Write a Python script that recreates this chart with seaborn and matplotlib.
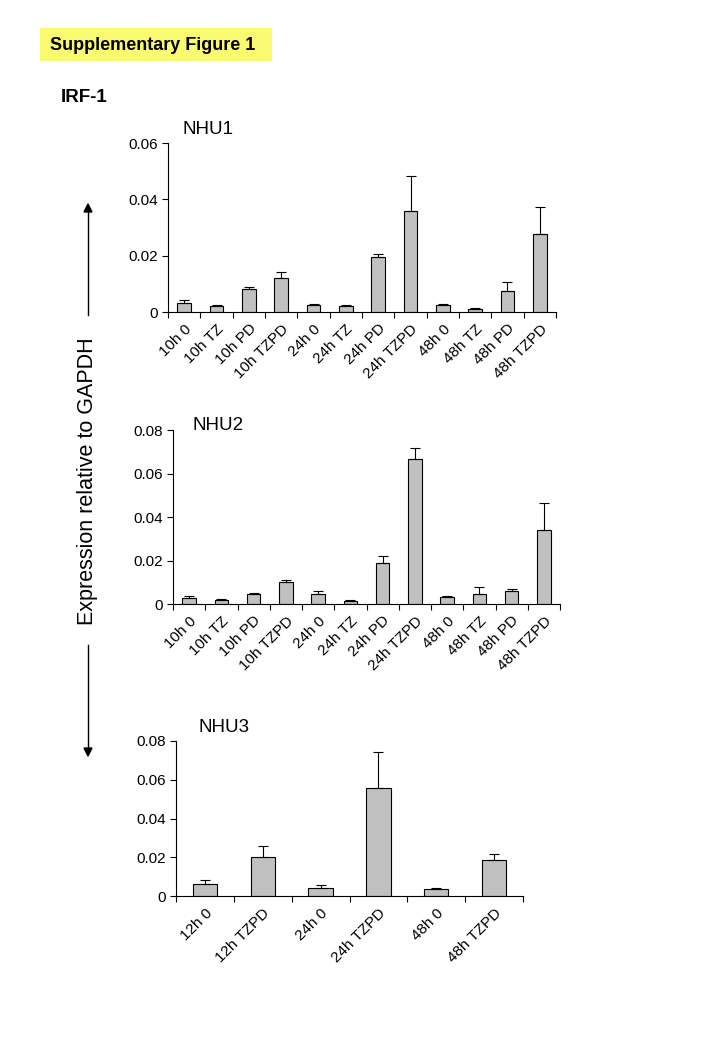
import numpy as np
import pandas as pd
import seaborn as sns
import matplotlib.pyplot as plt
from matplotlib.patches import Rectangle

# NHU1 / NHU2 share the same 12 conditions
conds12 = ["10h 0", "10h TZ", "10h PD", "10h TZPD",
           "24h 0", "24h TZ", "24h PD", "24h TZPD",
           "48h 0", "48h TZ", "48h PD", "48h TZPD"]
nhu1_mean = [0.0032, 0.0020, 0.0083, 0.0121, 0.0025, 0.0020,
             0.0196, 0.0357, 0.0025, 0.0012, 0.0076, 0.0278]
nhu1_top = [0.0043, 0.0024, 0.0088, 0.0141, 0.0028, 0.0024,
            0.0207, 0.0484, 0.0028, 0.0013, 0.0105, 0.0372]

nhu2_mean = [0.0029, 0.0018, 0.0044, 0.0103, 0.0044, 0.0014,
             0.0190, 0.0665, 0.0034, 0.0044, 0.0058, 0.0340]
nhu2_top = [0.0038, 0.0021, 0.0052, 0.0112, 0.0058, 0.0018,
            0.0219, 0.0719, 0.0035, 0.0078, 0.0067, 0.0466]

conds6 = ["12h 0", "12h TZPD", "24h 0", "24h TZPD", "48h 0", "48h TZPD"]
nhu3_mean = [0.0062, 0.0201, 0.0041, 0.0560, 0.0036, 0.0185]
nhu3_top = [0.0082, 0.0258, 0.0058, 0.0745, 0.0041, 0.0216]

plt.rcParams['font.family'] = ['Liberation Sans', 'DejaVu Sans']

W, H = 720, 1040
fig = plt.figure(figsize=(7.2, 10.4), dpi=100)


def px_axes(x0, x1, y0, y1):
    # pixel box -> figure fraction
    return fig.add_axes([x0 / W, 1 - y1 / H, (x1 - x0) / W, (y1 - y0) / H])


def panel(ax, labels, mean, top, ymax, yticks, title, title_x):
    df = pd.DataFrame({"cond": labels, "val": mean})
    sns.barplot(data=df, x="cond", y="val", color="#c0c0c0", saturation=1,
                edgecolor="black", linewidth=0.8, width=0.42, errorbar=None, ax=ax)
    x = np.arange(len(labels))
    up = np.array(top) - np.array(mean)
    ax.errorbar(x, mean, yerr=[np.zeros(len(x)), up], fmt="none",
                ecolor="black", elinewidth=0.8, capsize=3.5, capthick=0.8)
    ax.set_xlim(-0.5, len(labels) - 0.5)
    ax.set_ylim(0, ymax)
    ax.set_yticks(yticks)
    ax.set_yticklabels(["0" if v == 0 else f"{v:.2f}" for v in yticks], fontsize=11)
    ax.set_xticks(x)
    ax.set_xticklabels(labels, rotation=45, ha="right", rotation_mode="anchor", fontsize=11)
    ax.set_xticks(np.arange(-0.5, len(labels)), minor=True)
    ax.tick_params(axis="x", which="major", length=0, pad=7)
    ax.tick_params(axis="x", which="minor", length=4, width=0.8, direction="out")
    ax.tick_params(axis="y", length=4, width=0.8, direction="out", pad=3)
    ax.set_xlabel("")
    ax.set_ylabel("")
    sns.despine(ax=ax)
    for s in ["left", "bottom"]:
        ax.spines[s].set_linewidth(0.8)
    fig.text(title_x / W, 1 - title[1] / H, title[0], fontsize=13.5, va="center")


ax1 = px_axes(168, 556, 143, 312)
panel(ax1, conds12, nhu1_mean, nhu1_top, 0.06, [0, 0.02, 0.04, 0.06], ("NHU1", 130), 183)

ax2 = px_axes(173, 560, 430, 604)
panel(ax2, conds12, nhu2_mean, nhu2_top, 0.08, [0, 0.02, 0.04, 0.06, 0.08], ("NHU2", 425), 193)

ax3 = px_axes(176, 523, 741, 896)
panel(ax3, conds6, nhu3_mean, nhu3_top, 0.08, [0, 0.02, 0.04, 0.06, 0.08], ("NHU3", 727), 199)

# header
fig.patches.append(Rectangle((40 / W, 1 - 61 / H), 232 / W, 33 / H,
                             transform=fig.transFigure, facecolor="#fafa70",
                             edgecolor="none", zorder=0))
fig.text(50 / W, 1 - 45 / H, "Supplementary Figure 1", fontsize=13,
         fontweight="bold", va="center")
fig.text(61 / W, 1 - 97 / H, "IRF-1", fontsize=13.5, fontweight="bold", va="center")

# shared y label with arrows
fig.text(88 / W, 1 - 481 / H, "Expression relative to GAPDH", rotation=90,
         fontsize=15.5, ha="center", va="center")
fig.add_artist(plt.Line2D([88 / W, 88 / W], [1 - 315 / H, 1 - 208 / H],
                          color="black", lw=1, transform=fig.transFigure))
fig.add_artist(plt.Line2D([88 / W, 88 / W], [1 - 645 / H, 1 - 752 / H],
                          color="black", lw=1, transform=fig.transFigure))
fig.add_artist(plt.Polygon([[84 / W, 1 - 212 / H], [92 / W, 1 - 212 / H], [88 / W, 1 - 204 / H]],
                           closed=True, color="black", transform=fig.transFigure))
fig.add_artist(plt.Polygon([[84 / W, 1 - 748 / H], [92 / W, 1 - 748 / H], [88 / W, 1 - 756 / H]],
                           closed=True, color="black", transform=fig.transFigure))

fig.savefig("out.png", dpi=100)
